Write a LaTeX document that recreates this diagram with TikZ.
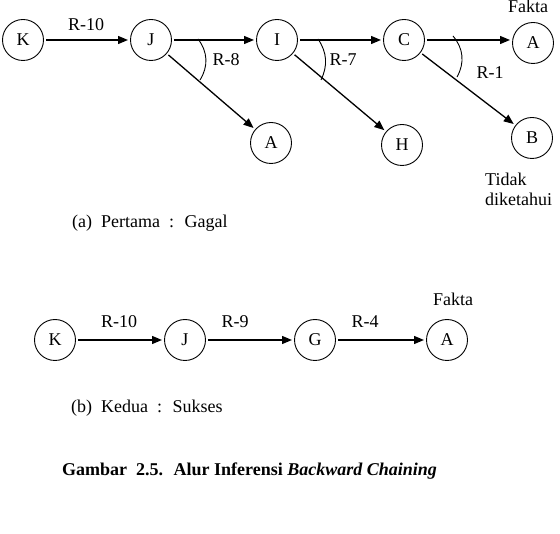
\documentclass[tikz,border=0pt]{standalone}
\usepackage{fontspec}
\setmainfont{Liberation Serif}
\usepackage{tikz}
\usetikzlibrary{positioning,arrows.meta,calc}

\begin{document}
\begin{tikzpicture}[
  x=1pt, y=-1pt,
  font=\fontsize{18}{20}\selectfont,
  circ/.style={draw, circle, line width=0.9pt, minimum size=41pt, inner sep=0pt, outer sep=2.5pt},
  arr/.style={-{Triangle[length=10pt,width=8pt]}, line width=1.3pt},
  rarc/.style={line width=0.9pt},
  lbl/.style={inner sep=0pt, anchor=base}
]
\useasboundingbox (0,0) rectangle (560,534);

% (a) pertama
\node[circ] (k1) at (23,40) {K};
\node[circ] (j1) at (151,40) {J};
\node[circ] (i1) at (277,40) {I};
\node[circ] (c1) at (404,40) {C};
\node[circ] (a1) at (533,43) {A};
\node[circ] (a2) at (271,143) {A};
\node[circ] (h1) at (402,145) {H};
\node[circ] (b1) at (532,138) {B};

\draw[arr] (k1) -- (j1);
\draw[arr] (j1) -- (i1);
\draw[arr] (i1) -- (c1);
\draw[arr] (c1) -- (a1.west |- c1);
\draw[arr] (j1) -- (a2);
\draw[arr] (i1) -- (h1);
\draw[arr] (c1) -- (b1);

\draw[rarc] ($(j1)+(47,-1)$) to[bend left=35] ($(j1)+(49,40)$);
\draw[rarc] ($(i1)+(41,-1)$) to[bend left=30] ($(i1)+(44,40)$);
\draw[rarc] ($(c1)+(49,-4)$) to[bend left=35] ($(c1)+(53,37)$);

\node[lbl] (r10a) at (86,31) {R-10};
\node[lbl] (r8) at (226,66) {R-8};
\node[lbl] (r7) at (343,66) {R-7};
\node[lbl] (r1) at (490,79) {R-1};
\node[lbl] (fakta1) at (528,13) {Fakta};
\node[inner sep=0pt, anchor=north west, align=left] (tidak) at (485,173) {Tidak\\diketahui};
\node[inner sep=0pt, anchor=base west] (capa) at (72,228) {(a) \ Pertama \ : \ Gagal};

% (b) kedua
\node[circ] (k2) at (55,340) {K};
\node[circ] (j2) at (185,340) {J};
\node[circ] (g2) at (315,340) {G};
\node[circ] (a3) at (447,340) {A};

\draw[arr] (k2) -- (j2);
\draw[arr] (j2) -- (g2);
\draw[arr] (g2) -- (a3);

\node[lbl] (r10b) at (119,328) {R-10};
\node[lbl] (r9) at (235,328) {R-9};
\node[lbl] (r4) at (365,328) {R-4};
\node[lbl] (fakta2) at (453,306) {Fakta};
\node[inner sep=0pt, anchor=base west] (capb) at (71,413) {(b) \ Kedua \ : \ Sukses};

\node[inner sep=0pt, anchor=base west, font=\fontsize{18}{20}\selectfont\bfseries] (gambar) at (62,476)
  {Gambar \ 2.5. \ Alur Inferensi \textit{Backward Chaining}};
\end{tikzpicture}
\end{document}
